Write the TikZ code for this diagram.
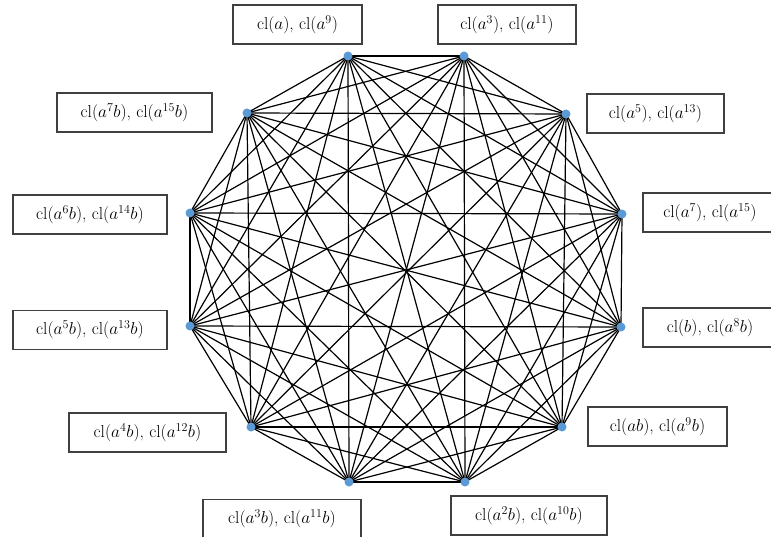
\documentclass[tikz,border=0pt]{standalone}
\definecolor{dotblue}{HTML}{5B9BD5}
\definecolor{boxgray}{HTML}{404040}
\begin{document}
\begin{tikzpicture}[x=1pt,y=-1pt,
  vdot/.style={circle,fill=dotblue,inner sep=0pt,minimum size=9pt},
  edge/.style={line width=1.2pt,black},
  lbl/.style={draw=boxgray,line width=1.4pt,fill=white,minimum height=39pt,inner sep=0pt,
    font=\fontsize{17.5}{20}\selectfont}]
\clip (0,0) rectangle (771,537);
\fill[white] (0,0) rectangle (771,537);
% vertex positions
\coordinate (p1) at (348,56);
\coordinate (p2) at (464,56);
\coordinate (p3) at (566,114);
\coordinate (p4) at (622,214);
\coordinate (p5) at (621,327);
\coordinate (p6) at (562,427);
\coordinate (p7) at (465,482);
\coordinate (p8) at (349,482);
\coordinate (p9) at (251,427);
\coordinate (p10) at (190,326);
\coordinate (p11) at (190,213);
\coordinate (p12) at (247,113);
% complete graph edges
\foreach \i in {1,...,11}{
  \pgfmathtruncatemacro\s{\i+1}
  \foreach \j in {\s,...,12}{
    \draw[edge] (p\i) -- (p\j);
  }
}
% vertices
\foreach \i in {1,...,12}{
  \node[vdot] (v\i) at (p\i) {};
}
% labels
\node[lbl,minimum width=129pt] (l1) at (297.5,24.5) {$\mathrm{cl}(a)$, $\mathrm{cl}(a^{9})$};
\node[lbl,minimum width=138pt] (l2) at (507,24.5) {$\mathrm{cl}(a^{3})$, $\mathrm{cl}(a^{11})$};
\node[lbl,minimum width=137pt] (l3) at (655.5,113.5) {$\mathrm{cl}(a^{5})$, $\mathrm{cl}(a^{13})$};
\node[lbl,minimum width=134pt] (l4) at (710,212.5) {$\mathrm{cl}(a^{7})$, $\mathrm{cl}(a^{15})$};
\node[lbl,minimum width=134pt] (l5) at (710,327.5) {$\mathrm{cl}(b)$, $\mathrm{cl}(a^{8}b)$};
\node[lbl,minimum width=139pt] (l6) at (657.5,426.5) {$\mathrm{cl}(ab)$, $\mathrm{cl}(a^{9}b)$};
\node[lbl,minimum width=156pt] (l7) at (529,515.5) {$\mathrm{cl}(a^{2}b)$, $\mathrm{cl}(a^{10}b)$};
\node[lbl,minimum width=158pt] (l8) at (282,519) {$\mathrm{cl}(a^{3}b)$, $\mathrm{cl}(a^{11}b)$};
\node[lbl,minimum width=157pt] (l9) at (147.5,432.5) {$\mathrm{cl}(a^{4}b)$, $\mathrm{cl}(a^{12}b)$};
\node[lbl,minimum width=154pt] (l10) at (90,330) {$\mathrm{cl}(a^{5}b)$, $\mathrm{cl}(a^{13}b)$};
\node[lbl,minimum width=154pt] (l11) at (90,214.5) {$\mathrm{cl}(a^{6}b)$, $\mathrm{cl}(a^{14}b)$};
\node[lbl,minimum width=155pt] (l12) at (134.5,112.5) {$\mathrm{cl}(a^{7}b)$, $\mathrm{cl}(a^{15}b)$};
\end{tikzpicture}
\end{document}
